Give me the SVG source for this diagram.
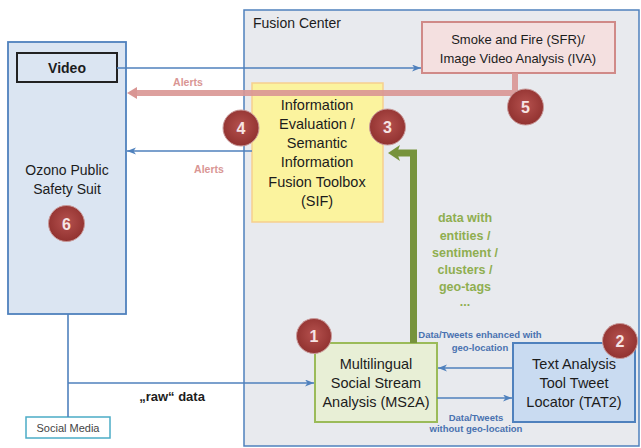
<svg xmlns="http://www.w3.org/2000/svg" width="641" height="448" viewBox="0 0 641 448">
<defs>
<style>
.t{font-family:"Liberation Sans",Arial,sans-serif;fill:#1c1c1c;text-anchor:middle}
.n{font-size:14.5px}
.b{font-weight:bold}
.lbl{font-family:"Liberation Sans",Arial,sans-serif;font-weight:bold;text-anchor:middle}
.blue{fill:#4a72b0;font-size:9.5px}
.pink{fill:#d99694;font-size:10.5px}
.green{fill:#8fae50;font-size:12.5px}
.ln{fill:none;stroke:#4f81bd;stroke-width:1.6}
.badge circle{fill:url(#rg);stroke:#c99a9a;stroke-width:1}
.badge text{font-family:"Liberation Sans",Arial,sans-serif;font-weight:bold;font-size:16px;fill:#f6e4e4;text-anchor:middle}
</style>
<radialGradient id="rg" cx="0.5" cy="0.45" r="0.6">
<stop offset="0" stop-color="#b5514e"/>
<stop offset="1" stop-color="#8e2f2d"/>
</radialGradient>
<marker id="ab" markerWidth="10" markerHeight="8" refX="9" refY="3.5" orient="auto" markerUnits="userSpaceOnUse">
<path d="M0,0 L9,3.5 L0,7 L2.5,3.5 z" fill="#4f81bd"/>
</marker>
<marker id="ap" markerWidth="12" markerHeight="12" refX="2" refY="6" orient="auto" markerUnits="userSpaceOnUse">
<path d="M0,0 L10,6 L0,12 z" fill="#d99694"/>
</marker>
<marker id="ag" markerWidth="14" markerHeight="18" refX="3" refY="8" orient="auto" markerUnits="userSpaceOnUse">
<path d="M0,0 L12,8 L0,16 L3,8 z" fill="#77933c"/>
</marker>
</defs>
<rect width="641" height="448" fill="#ffffff"/>

<g id="fusion-center">
<rect x="244" y="10" width="395" height="436" fill="#e8eaee" stroke="#4f81bd" stroke-width="1.5"/>
<text class="t" x="253" y="28" style="font-size:14px;text-anchor:start">Fusion Center</text>
</g>

<g id="ozono">
<rect x="8" y="42" width="118" height="272" fill="#dbe5f2" stroke="#4f81bd" stroke-width="1.8"/>
<text class="t" x="67" y="175" style="font-size:14px">Ozono Public</text>
<text class="t" x="67" y="194" style="font-size:14px">Safety Suit</text>
</g>

<g id="video">
<rect x="17" y="53" width="100" height="29" fill="#dbe5f2" stroke="#222" stroke-width="2"/>
<text class="t b" x="67" y="73" style="font-size:14px">Video</text>
</g>

<g id="sfr">
<rect x="422" y="22" width="193" height="51" fill="#f4e0e0" stroke="#d08a88" stroke-width="2"/>
<text class="t" x="518" y="44" style="font-size:13px">Smoke and Fire (SFR)/</text>
<text class="t" x="518" y="63" style="font-size:13px">Image Video Analysis (IVA)</text>
</g>

<g id="sif">
<rect x="252" y="83" width="131" height="139" fill="#fbf39e" stroke="#f6cf8e" stroke-width="1.5"/>
<text class="t n" x="317" y="110">Information</text>
<text class="t n" x="317" y="129">Evaluation /</text>
<text class="t n" x="317" y="148">Semantic</text>
<text class="t n" x="317" y="167">Information</text>
<text class="t n" x="317" y="187">Fusion Toolbox</text>
<text class="t n" x="317" y="206">(SIF)</text>
</g>

<g id="ms2a">
<rect x="315" y="343" width="122" height="79" fill="#e8efd6" stroke="#9bbb59" stroke-width="2"/>
<text class="t n" x="376" y="369">Multilingual</text>
<text class="t n" x="376" y="388">Social Stream</text>
<text class="t n" x="376" y="407">Analysis (MS2A)</text>
</g>

<g id="tat2">
<rect x="513" y="343" width="122" height="79" fill="#c9dbf1" stroke="#4f81bd" stroke-width="2"/>
<text class="t n" x="574" y="369">Text Analysis</text>
<text class="t n" x="574" y="388">Tool Tweet</text>
<text class="t n" x="574" y="407">Locator (TAT2)</text>
</g>

<g id="social-media">
<rect x="26" y="417" width="84" height="21" fill="#ffffff" stroke="#4bacc6" stroke-width="1.5"/>
<text class="t" x="68" y="432" style="font-size:11px;fill:#444">Social Media</text>
</g>

<g id="connectors">
<path class="ln" d="M117,68 H421" marker-end="url(#ab)"/>
<path d="M515,73 V93 H135" fill="none" stroke="#d99694" stroke-width="6" stroke-opacity="0.9" marker-end="url(#ap)"/>
<text class="lbl pink" x="188" y="86">Alerts</text>
<path class="ln" d="M252,151 H127" marker-end="url(#ab)"/>
<text class="lbl pink" x="209" y="173">Alerts</text>
<path d="M413.5,343 V153 H397" fill="none" stroke="#77933c" stroke-width="7" marker-end="url(#ag)"/>
<text class="lbl green" x="465" y="222">data with</text>
<text class="lbl green" x="465" y="240">entities /</text>
<text class="lbl green" x="465" y="257">sentiment /</text>
<text class="lbl green" x="465" y="274">clusters /</text>
<text class="lbl green" x="465" y="291">geo-tags</text>
<text class="lbl green" x="465" y="306">...</text>
<path class="ln" d="M513,368 H438" marker-end="url(#ab)"/>
<text class="lbl blue" x="480" y="338">Data/Tweets enhanced with</text>
<text class="lbl blue" x="480" y="351">geo-location</text>
<path class="ln" d="M437,398 H512" marker-end="url(#ab)"/>
<text class="lbl blue" x="476" y="421">Data/Tweets</text>
<text class="lbl blue" x="476" y="432">without geo-location</text>
<path class="ln" d="M68,314 V417"/>
<path class="ln" d="M68,383 H314" marker-end="url(#ab)"/>
<text class="lbl" x="172" y="401" style="font-size:13px;fill:#1c1c1c">„raw“ data</text>
</g>

<g id="badges">
<g class="badge" id="badge-1"><circle cx="314" cy="336" r="17.5"/><text x="314" y="342">1</text></g>
<g class="badge" id="badge-2"><circle cx="620" cy="341" r="17.5"/><text x="620" y="347">2</text></g>
<g class="badge" id="badge-3"><circle cx="387.5" cy="127" r="18"/><text x="387.5" y="133">3</text></g>
<g class="badge" id="badge-4"><circle cx="241" cy="128" r="18"/><text x="241" y="134">4</text></g>
<g class="badge" id="badge-5"><circle cx="525.5" cy="107" r="18"/><text x="525.5" y="113">5</text></g>
<g class="badge" id="badge-6"><circle cx="66.5" cy="223.5" r="18"/><text x="66.5" y="229.5">6</text></g>
</g>
</svg>
